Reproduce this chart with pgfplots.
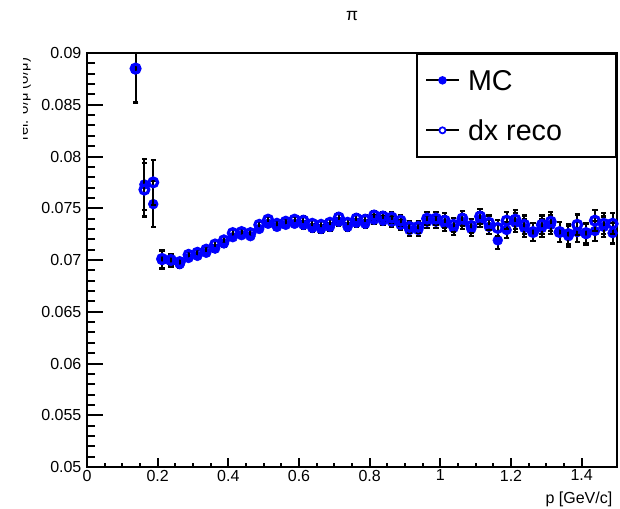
\documentclass[border=0pt]{standalone}
\usepackage{fontspec}
\setmainfont{Liberation Sans}
\usepackage{pgfplots}
\pgfplotsset{compat=1.18}

\begin{document}
\begin{tikzpicture}
\useasboundingbox (-65.25pt,-30.75pt) rectangle (399.75pt,350.25pt);
\begin{axis}[
    at={(0,0)}, anchor=south west,
    scale only axis,
    width=397.5pt, height=310.5pt,
    xmin=0, xmax=1.5, ymin=0.05, ymax=0.09,
    clip mode=individual,
    axis line style={line width=1.8pt},
    tick pos=left, tick align=inside,
    xtick=\empty,
    scaled y ticks=false,
    ytick={0.05,0.055,0.06,0.065,0.07,0.075,0.08,0.085,0.09},
    yticklabels={0.05,0.055,0.06,0.065,0.07,0.075,0.08,0.085,0.09},
    minor y tick num=4,
    major tick length=12pt, minor tick length=6pt,
    tick style={line width=1.5pt, black},
    ticklabel style={font=\fontsize{12}{14}\selectfont},
    yticklabel style={inner sep=4pt},
    legend cell align=left,
    legend style={at={(1,1)}, anchor=north east, draw=black, line width=1.5pt,
        fill=white, inner xsep=0pt, inner ysep=1pt, row sep=0pt, column sep=6pt,
        font=\fontsize{21.5}{24}\selectfont,
        nodes={inner sep=0pt, text height=26pt, text depth=11.5pt}},
]

% MC (filled)
\addplot+[only marks, mark=*, mark size=3.7pt, color=blue,
    mark options={fill=blue, draw=blue, line width=0.4pt},
    legend image code/.code={
        \path[draw=none] (0pt,0pt) -- (31.5pt,0pt);
        \draw[black, line width=1.5pt] (6.75pt,0pt) -- (31.5pt,0pt);
        \fill[blue] (19.1pt,0pt) circle (2.4pt);},
    error bars/.cd, y dir=both, y explicit,
    error bar style={black, line width=1.6pt},
    error mark options={rotate=90, black, mark size=2pt, line width=1.6pt},
] coordinates {
    (0.1375,0.0884) +- (0,0.0032)
    (0.1625,0.0773) +- (0,0.0025)
    (0.1875,0.0754) +- (0,0.0022)
    (0.2125,0.0700) +- (0,0.0009)
    (0.2375,0.0699) +- (0,0.0006)
    (0.2625,0.0696) +- (0,0.0004)
    (0.2875,0.0702) +- (0,0.0003)
    (0.3125,0.0704) +- (0,0.0003)
    (0.3375,0.0707) +- (0,0.0003)
    (0.3625,0.0711) +- (0,0.0003)
    (0.3875,0.0716) +- (0,0.0003)
    (0.4125,0.0722) +- (0,0.0003)
    (0.4375,0.0724) +- (0,0.0003)
    (0.4625,0.0723) +- (0,0.0003)
    (0.4875,0.0730) +- (0,0.0003)
    (0.5125,0.0735) +- (0,0.0003)
    (0.5375,0.0732) +- (0,0.0003)
    (0.5625,0.0734) +- (0,0.0003)
    (0.5875,0.0735) +- (0,0.0003)
    (0.6125,0.0734) +- (0,0.0004)
    (0.6375,0.0731) +- (0,0.0004)
    (0.6625,0.0730) +- (0,0.0004)
    (0.6875,0.0732) +- (0,0.0004)
    (0.7125,0.0737) +- (0,0.0004)
    (0.7375,0.0732) +- (0,0.0004)
    (0.7625,0.0736) +- (0,0.0004)
    (0.7875,0.0735) +- (0,0.0004)
    (0.8125,0.0739) +- (0,0.0004)
    (0.8375,0.0738) +- (0,0.0004)
    (0.8625,0.0737) +- (0,0.0005)
    (0.8875,0.0734) +- (0,0.0005)
    (0.9125,0.0729) +- (0,0.0006)
    (0.9375,0.0729) +- (0,0.0006)
    (0.9625,0.0737) +- (0,0.0006)
    (0.9875,0.0737) +- (0,0.0006)
    (1.0125,0.0735) +- (0,0.0007)
    (1.0375,0.0731) +- (0,0.0007)
    (1.0625,0.0737) +- (0,0.0007)
    (1.0875,0.0730) +- (0,0.0007)
    (1.1125,0.0739) +- (0,0.0007)
    (1.1375,0.0732) +- (0,0.0007)
    (1.1625,0.0719) +- (0,0.0008)
    (1.1875,0.0729) +- (0,0.0008)
    (1.2125,0.0736) +- (0,0.0009)
    (1.2375,0.0731) +- (0,0.0009)
    (1.2625,0.0727) +- (0,0.0009)
    (1.2875,0.0731) +- (0,0.0009)
    (1.3125,0.0734) +- (0,0.0009)
    (1.3375,0.0727) +- (0,0.0010)
    (1.3625,0.0723) +- (0,0.0010)
    (1.3875,0.0727) +- (0,0.0010)
    (1.4125,0.0725) +- (0,0.0010)
    (1.4375,0.0728) +- (0,0.0010)
    (1.4625,0.0732) +- (0,0.0010)
    (1.4875,0.0726) +- (0,0.0010)
};
\addlegendentry{\makebox[111pt][l]{MC}}

% dx reco (open)
\addplot+[only marks, mark=o, mark size=3.3pt, color=blue,
    mark options={draw=blue, line width=2.4pt},
    legend image code/.code={
        \path[draw=none] (0pt,0pt) -- (31.5pt,0pt);
        \draw[black, line width=1.5pt] (6.75pt,0pt) -- (31.5pt,0pt);
        \draw[blue, fill=white, line width=1.3pt] (19.1pt,0pt) circle (2.3pt);},
    error bars/.cd, y dir=both, y explicit,
    error bar style={black, line width=1.6pt},
    error mark options={rotate=90, black, mark size=2pt, line width=1.6pt},
] coordinates {
    (0.1375,0.0885) +- (0,0.0032)
    (0.1625,0.0768) +- (0,0.0026)
    (0.1875,0.0775) +- (0,0.0022)
    (0.2125,0.0701) +- (0,0.0009)
    (0.2375,0.0700) +- (0,0.0006)
    (0.2625,0.0698) +- (0,0.0004)
    (0.2875,0.0705) +- (0,0.0003)
    (0.3125,0.0707) +- (0,0.0003)
    (0.3375,0.0710) +- (0,0.0003)
    (0.3625,0.0715) +- (0,0.0003)
    (0.3875,0.0719) +- (0,0.0003)
    (0.4125,0.0726) +- (0,0.0003)
    (0.4375,0.0727) +- (0,0.0003)
    (0.4625,0.0726) +- (0,0.0003)
    (0.4875,0.0734) +- (0,0.0003)
    (0.5125,0.0739) +- (0,0.0003)
    (0.5375,0.0735) +- (0,0.0003)
    (0.5625,0.0737) +- (0,0.0003)
    (0.5875,0.0739) +- (0,0.0003)
    (0.6125,0.0738) +- (0,0.0004)
    (0.6375,0.0735) +- (0,0.0004)
    (0.6625,0.0734) +- (0,0.0004)
    (0.6875,0.0736) +- (0,0.0004)
    (0.7125,0.0741) +- (0,0.0004)
    (0.7375,0.0736) +- (0,0.0004)
    (0.7625,0.0740) +- (0,0.0004)
    (0.7875,0.0739) +- (0,0.0004)
    (0.8125,0.0743) +- (0,0.0004)
    (0.8375,0.0742) +- (0,0.0004)
    (0.8625,0.0741) +- (0,0.0005)
    (0.8875,0.0738) +- (0,0.0005)
    (0.9125,0.0732) +- (0,0.0006)
    (0.9375,0.0732) +- (0,0.0006)
    (0.9625,0.0740) +- (0,0.0006)
    (0.9875,0.0740) +- (0,0.0006)
    (1.0125,0.0738) +- (0,0.0007)
    (1.0375,0.0734) +- (0,0.0007)
    (1.0625,0.0740) +- (0,0.0007)
    (1.0875,0.0733) +- (0,0.0007)
    (1.1125,0.0742) +- (0,0.0007)
    (1.1375,0.0736) +- (0,0.0007)
    (1.1625,0.0731) +- (0,0.0008)
    (1.1875,0.0738) +- (0,0.0008)
    (1.2125,0.0739) +- (0,0.0009)
    (1.2375,0.0734) +- (0,0.0009)
    (1.2625,0.0727) +- (0,0.0009)
    (1.2875,0.0734) +- (0,0.0009)
    (1.3125,0.0737) +- (0,0.0009)
    (1.3375,0.0727) +- (0,0.0010)
    (1.3625,0.0725) +- (0,0.0010)
    (1.3875,0.0734) +- (0,0.0010)
    (1.4125,0.0726) +- (0,0.0010)
    (1.4375,0.0738) +- (0,0.0010)
    (1.4625,0.0735) +- (0,0.0010)
    (1.4875,0.0735) +- (0,0.0010)
};
\addlegendentry{\makebox[111pt][l]{dx reco}}

\node[font=\fontsize{13}{15}\selectfont] at (rel axis cs:0.5,1) [yshift=27.5pt] {π};
\node[font=\fontsize{12}{14}\selectfont, anchor=north east] at (rel axis cs:1,0) [yshift=-15pt] {p [GeV/c]};
\end{axis}

% x axis ticks: shorter than the y ones
\begin{axis}[
    at={(0,0)}, anchor=south west,
    scale only axis,
    width=397.5pt, height=310.5pt,
    xmin=0, xmax=1.5, ymin=0, ymax=1,
    hide y axis,
    axis x line*=bottom,
    axis line style={-, line width=1.8pt},
    tick align=inside,
    xtick={0,0.2,0.4,0.6,0.8,1,1.2,1.4},
    xticklabels={0,0.2,0.4,0.6,0.8,1,1.2,1.4},
    minor x tick num=3,
    major tick length=7pt, minor tick length=3pt,
    tick style={line width=1.5pt, black},
    ticklabel style={font=\fontsize{12}{14}\selectfont},
    xticklabel style={inner sep=2pt},
]
\end{axis}

% y title, cut by the pad edge as in the original
\begin{scope}
\clip (-47.25pt,0pt) rectangle (-30pt,320pt);
\node[rotate=90, anchor=base east, font=\fontsize{11}{13}\selectfont] at (-44.25pt,310.5pt) {rel. σ/μ (σ/μ)};
\end{scope}
\end{tikzpicture}
\end{document}
